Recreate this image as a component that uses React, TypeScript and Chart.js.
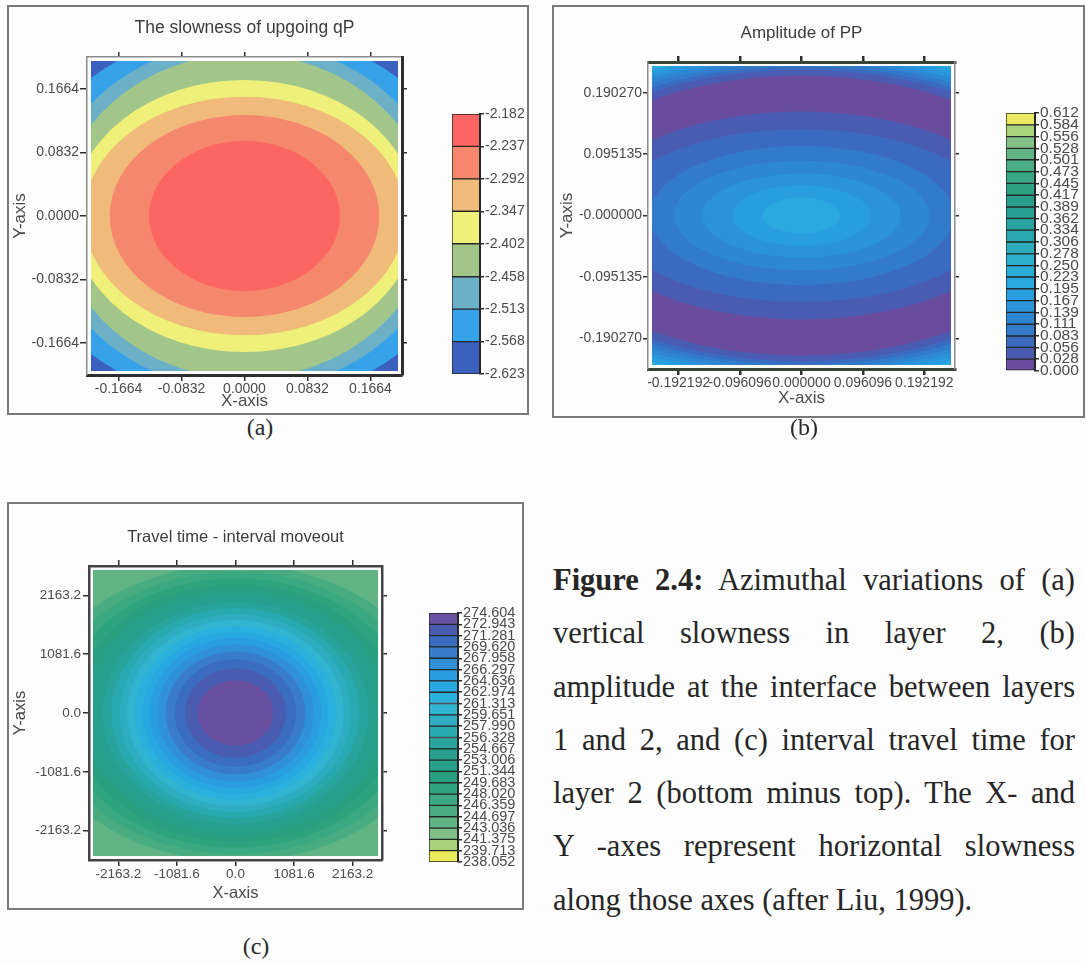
import React, { useEffect, useRef } from "react";
import { Chart, registerables } from "chart.js";

Chart.register(...registerables);

const SANS = "'Liberation Sans', Arial, sans-serif";
const SERIF = "'Liberation Serif', 'Times New Roman', serif";

// ---------------- Panel (a): slowness of upgoing qP ----------------
const A_TITLE = "The slowness of upgoing qP";
const A_AXIS_MAX = 0.208;
const A_TICKS = [-0.1664, -0.0832, 0, 0.0832, 0.1664];
const A_TICK_LABELS = ["-0.1664", "-0.0832", "0.0000", "0.0832", "0.1664"];
const A_LEVELS = [-2.623, -2.568, -2.513, -2.458, -2.402, -2.347, -2.292, -2.237, -2.182];
const A_LEVEL_LABELS = ["-2.623", "-2.568", "-2.513", "-2.458", "-2.402", "-2.347", "-2.292", "-2.237", "-2.182"];
const A_COLORS = ["#3c60bd", "#36a2ea", "#6cb0c8", "#a2c68a", "#eef07a", "#f0ba7a", "#f5876c", "#fc6662"];
const A_BACKGROUND_BAND = 0;
const A_CONTOUR_BAND = [1, 2, 3, 4, 5, 6, 7];
const A_CONTOUR_RX = [0.3, 0.265, 0.245, 0.228, 0.212, 0.178, 0.126];
const A_CONTOUR_RY = [0.245, 0.228, 0.212, 0.178, 0.156, 0.132, 0.098];

// ---------------- Panel (b): amplitude of PP ----------------
const B_TITLE = "Amplitude of PP";
const B_X_MAX = 0.24024;
const B_Y_MAX = 0.237838;
const B_X_TICKS = [-0.192192, -0.096096, 0, 0.096096, 0.192192];
const B_X_TICK_LABELS = ["-0.192192", "-0.096096", "0.000000", "0.096096", "0.192192"];
const B_Y_TICKS = [-0.19027, -0.095135, 0, 0.095135, 0.19027];
const B_Y_TICK_LABELS = ["-0.190270", "-0.095135", "-0.000000", "0.095135", "0.190270"];
const B_LEVELS = [0.0, 0.028, 0.056, 0.083, 0.111, 0.139, 0.167, 0.195, 0.223, 0.25, 0.278, 0.306, 0.334, 0.362, 0.389, 0.417, 0.445, 0.473, 0.501, 0.528, 0.556, 0.584, 0.612];
const B_LEVEL_LABELS = ["0.000", "0.028", "0.056", "0.083", "0.111", "0.139", "0.167", "0.195", "0.223", "0.250", "0.278", "0.306", "0.334", "0.362", "0.389", "0.417", "0.445", "0.473", "0.501", "0.528", "0.556", "0.584", "0.612"];
const B_COLORS = ["#6a4c9e", "#4a5cb2", "#3b6bc0", "#327aca", "#2d87d2", "#2a93da", "#299edf", "#2aa8e0", "#2aaed8", "#2bb0cc", "#2cadbe", "#2ba8ae", "#29a4a0", "#28a094", "#289f8a", "#2ca184", "#38a683", "#4aad84", "#63b586", "#82c287", "#aad47c", "#e9ec62"];
const B_BACKGROUND_BAND = 21;
// outer contours (0.584 ... 0.028) then inner contours (0.028 ... 0.195)
const B_CONTOUR_BAND = [20, 19, 18, 17, 16, 15, 14, 13, 12, 11, 10, 9, 8, 7, 6, 5, 4, 3, 2, 1, 0, 1, 2, 3, 4, 5, 6, 7];
const B_CONTOUR_RX = [0.56, 0.56, 0.56, 0.56, 0.56, 0.56, 0.56, 0.56, 0.56, 0.56, 0.56, 0.56, 0.56, 0.555, 0.54, 0.52, 0.5, 0.48, 0.46, 0.44, 0.4125, 0.34, 0.3, 0.238, 0.2, 0.155, 0.108, 0.06];
const B_CONTOUR_RY = [0.2566, 0.2563, 0.256, 0.2557, 0.2554, 0.2551, 0.2548, 0.2545, 0.2542, 0.2539, 0.2536, 0.2533, 0.253, 0.2525, 0.251, 0.246, 0.241, 0.236, 0.231, 0.226, 0.217, 0.161, 0.134, 0.108, 0.085, 0.065, 0.047, 0.028];

// ---------------- Panel (c): travel time - interval moveout ----------------
const C_TITLE = "Travel time - interval moveout";
const C_AXIS_MAX = 2704;
const C_TICKS = [-2163.2, -1081.6, 0, 1081.6, 2163.2];
const C_TICK_LABELS = ["-2163.2", "-1081.6", "0.0", "1081.6", "2163.2"];
const C_LEVELS = [238.052, 239.713, 241.375, 243.036, 244.697, 246.359, 248.02, 249.683, 251.344, 253.006, 254.667, 256.328, 257.99, 259.651, 261.313, 262.974, 264.636, 266.297, 267.958, 269.62, 271.281, 272.943, 274.604];
const C_LEVEL_LABELS = ["238.052", "239.713", "241.375", "243.036", "244.697", "246.359", "248.020", "249.683", "251.344", "253.006", "254.667", "256.328", "257.990", "259.651", "261.313", "262.974", "264.636", "266.297", "267.958", "269.620", "271.281", "272.943", "274.604"];
const C_COLORS = ["#e8ec58", "#a8d078", "#80c088", "#60b484", "#48ac80", "#3aa880", "#2ea47e", "#28a080", "#26a088", "#28a090", "#28a49c", "#2aa8b0", "#2eacc0", "#30b4d0", "#2ab0dc", "#28a8e0", "#2a9ce0", "#3090d8", "#3a7ccc", "#3a6cc0", "#4a5cb0", "#6a50a0"];
const C_BACKGROUND_BAND = 0;
const C_CONTOUR_BAND = [1, 2, 3, 4, 5, 6, 7, 8, 9, 10, 11, 12, 13, 14, 15, 16, 17, 18, 19, 20, 21];
const C_CONTOUR_RX = [12000, 9000, 7000, 3720, 3460, 3220, 3000, 2800, 2620, 2450, 2290, 2140, 2000, 1860, 1720, 1580, 1440, 1290, 1120, 930, 700];
const C_CONTOUR_RY = [3600, 3200, 2900, 2730, 2600, 2480, 2370, 2260, 2150, 2040, 1930, 1820, 1710, 1600, 1490, 1380, 1260, 1130, 990, 820, 600];

// ---------------- Caption ----------------
const CAPTION_BOLD = "Figure 2.4:";
const CAPTION_LINES = [
  " Azimuthal variations of (a)",
  "vertical slowness in layer 2, (b)",
  "amplitude at the interface between layers",
  "1 and 2, and (c) interval travel time for",
  "layer 2 (bottom minus top). The X- and",
  "Y -axes represent horizontal slowness",
  "along those axes (after Liu, 1999).",
];

type Border = [string, number];
type MainSpec = {
  left: number; top: number; w: number; h: number;
  yW: number; y2W: number; x2H: number; xH: number;
  xMax: number; yMax: number;
  xTicks: number[]; xLabels: string[]; yTicks: number[]; yLabels: string[];
  tickFont: number; titleFont: number; axisTitleFont: number;
  title: string; titlePadTop: number; yTitlePad: number; xTitlePadBottom: number;
  xTickLen: number; yTickLen: number; x2TickLen: number; y2TickLen: number;
  xTickPad: number; yTickPad: number;
  bx: Border; bx2: Border; by: Border; by2: Border;
  tickWidthX: number; tickWidthY: number;
  inset: number;
  colors: string[]; bgBand: number; bands: number[]; rx: number[]; ry: number[];
};

type BarSpec = {
  left: number; top: number; w: number; h: number;
  padTop: number; padBottom: number; axisW: number;
  levels: number[]; labels: string[]; colors: string[]; font: number;
};

const TICK_COLOR = "#2f2f2f";
const LABEL_COLOR = "#4a4a4a";

function contourPlugin(spec: MainSpec) {
  return {
    id: "contours",
    beforeDatasetsDraw(chart: any) {
      const { ctx, chartArea: ca, scales } = chart;
      const xs = scales.x;
      const ys = scales.y;
      const ins = spec.inset;
      ctx.save();
      ctx.beginPath();
      ctx.rect(ca.left + ins, ca.top + ins, ca.right - ca.left - 2 * ins, ca.bottom - ca.top - 2 * ins);
      ctx.clip();
      ctx.fillStyle = spec.colors[spec.bgBand];
      ctx.fillRect(ca.left, ca.top, ca.right - ca.left, ca.bottom - ca.top);
      const cx = xs.getPixelForValue(0);
      const cy = ys.getPixelForValue(0);
      for (let i = 0; i < spec.rx.length; i++) {
        const px = Math.abs(xs.getPixelForValue(spec.rx[i]) - cx);
        const py = Math.abs(ys.getPixelForValue(spec.ry[i]) - cy);
        ctx.beginPath();
        ctx.ellipse(cx, cy, px, py, 0, 0, Math.PI * 2);
        ctx.fillStyle = spec.colors[spec.bands[i]];
        ctx.fill();
      }
      ctx.restore();
    },
  };
}

function buildMain(spec: MainSpec): any {
  const tickFont = { family: SANS, size: spec.tickFont };
  const axisTitleFont = { family: SANS, size: spec.axisTitleFont };
  return {
    type: "scatter",
    data: { datasets: [] },
    options: {
      animation: false,
      responsive: false,
      events: [],
      layout: { padding: 0 },
      plugins: { legend: { display: false }, tooltip: { enabled: false }, title: { display: false } },
      scales: {
        x: {
          type: "linear", position: "bottom", min: -spec.xMax, max: spec.xMax,
          afterBuildTicks: (s: any) => { s.ticks = spec.xTicks.map((v) => ({ value: v })); },
          afterFit: (s: any) => { s.height = spec.xH; },
          ticks: { callback: (_v: any, i: number) => spec.xLabels[i], font: tickFont, color: LABEL_COLOR, padding: spec.xTickPad, maxRotation: 0, autoSkip: false },
          grid: { drawOnChartArea: false, drawTicks: true, tickLength: spec.xTickLen, color: TICK_COLOR, lineWidth: spec.tickWidthX },
          border: { display: true, color: spec.bx[0], width: spec.bx[1], z: 1 },
          title: { display: true, text: "X-axis", font: axisTitleFont, color: LABEL_COLOR, padding: { top: 0, bottom: spec.xTitlePadBottom } },
        },
        x2: {
          type: "linear", axis: "x", position: "top", min: -spec.xMax, max: spec.xMax,
          afterBuildTicks: (s: any) => { s.ticks = spec.xTicks.map((v) => ({ value: v })); },
          afterFit: (s: any) => { s.height = spec.x2H; },
          ticks: { display: false },
          grid: { drawOnChartArea: false, drawTicks: true, tickLength: spec.x2TickLen, color: TICK_COLOR, lineWidth: spec.tickWidthX },
          border: { display: true, color: spec.bx2[0], width: spec.bx2[1], z: 1 },
          title: { display: true, text: spec.title, font: { family: SANS, size: spec.titleFont }, color: "#3c3c3c", padding: { top: spec.titlePadTop, bottom: 0 } },
        },
        y: {
          type: "linear", position: "left", min: -spec.yMax, max: spec.yMax,
          afterBuildTicks: (s: any) => { s.ticks = spec.yTicks.map((v) => ({ value: v })); },
          afterFit: (s: any) => { s.width = spec.yW; },
          ticks: { callback: (_v: any, i: number) => spec.yLabels[i], font: tickFont, color: LABEL_COLOR, padding: spec.yTickPad, autoSkip: false },
          grid: { drawOnChartArea: false, drawTicks: true, tickLength: spec.yTickLen, color: TICK_COLOR, lineWidth: spec.tickWidthY },
          border: { display: true, color: spec.by[0], width: spec.by[1], z: 1 },
          title: { display: true, text: "Y-axis", font: axisTitleFont, color: LABEL_COLOR, padding: { top: spec.yTitlePad, bottom: 0 } },
        },
        y2: {
          type: "linear", axis: "y", position: "right", min: -spec.yMax, max: spec.yMax,
          afterBuildTicks: (s: any) => { s.ticks = spec.yTicks.map((v) => ({ value: v })); },
          afterFit: (s: any) => { s.width = spec.y2W; },
          ticks: { display: false },
          grid: { drawOnChartArea: false, drawTicks: true, tickLength: spec.y2TickLen, color: TICK_COLOR, lineWidth: spec.tickWidthY },
          border: { display: true, color: spec.by2[0], width: spec.by2[1], z: 1 },
        },
      },
    },
    plugins: [contourPlugin(spec)],
  };
}

function buildBar(spec: BarSpec): any {
  const datasets = spec.colors.map((c, i) => ({
    data: [[spec.levels[i], spec.levels[i + 1]]],
    backgroundColor: c,
    borderColor: "#262626",
    borderWidth: 1,
    borderSkipped: false,
    grouped: false,
    categoryPercentage: 1,
    barPercentage: 1,
  }));
  return {
    type: "bar",
    data: { labels: [""], datasets },
    options: {
      animation: false,
      responsive: false,
      events: [],
      layout: { padding: { top: spec.padTop, bottom: spec.padBottom, left: 0, right: 0 } },
      plugins: { legend: { display: false }, tooltip: { enabled: false } },
      scales: {
        x: { display: false },
        y: {
          type: "linear", position: "right",
          min: spec.levels[0], max: spec.levels[spec.levels.length - 1],
          afterBuildTicks: (s: any) => { s.ticks = spec.levels.map((v) => ({ value: v })); },
          afterFit: (s: any) => { s.width = spec.axisW; },
          ticks: { callback: (_v: any, i: number) => spec.labels[i], font: { family: SANS, size: spec.font }, color: LABEL_COLOR, padding: 1, autoSkip: false },
          grid: { drawOnChartArea: false, drawTicks: true, tickLength: 4, color: TICK_COLOR, lineWidth: 1.5 },
          border: { display: true, color: "#262626", width: 2, z: 1 },
        },
      },
    },
  };
}

function ChartCanvas({ left, top, w, h, build }: { left: number; top: number; w: number; h: number; build: () => any }) {
  const ref = useRef<HTMLCanvasElement>(null);
  useEffect(() => {
    const chart = new Chart(ref.current as HTMLCanvasElement, build());
    return () => chart.destroy();
  }, []);
  return (
    <canvas
      ref={ref}
      width={w}
      height={h}
      style={{ position: "absolute", left, top, width: w, height: h }}
    />
  );
}

const SPEC_A: MainSpec = {
  left: 9, top: 7, w: 440, h: 405,
  yW: 78, y2W: 47, x2H: 50, xH: 37,
  xMax: A_AXIS_MAX, yMax: A_AXIS_MAX,
  xTicks: A_TICKS, xLabels: A_TICK_LABELS, yTicks: A_TICKS, yLabels: A_TICK_LABELS,
  tickFont: 14, titleFont: 17.5, axisTitleFont: 17,
  title: A_TITLE, titlePadTop: 11, yTitlePad: 1, xTitlePadBottom: 0,
  xTickLen: 6, yTickLen: 7, x2TickLen: 5, y2TickLen: 5, xTickPad: 0, yTickPad: 1,
  bx: ["#2e2e2e", 3], bx2: ["#8c8c8c", 1.5], by: ["#8c8c8c", 1.5], by2: ["#2e2e2e", 3],
  tickWidthX: 1.5, tickWidthY: 1.5,
  inset: 4,
  colors: A_COLORS, bgBand: A_BACKGROUND_BAND, bands: A_CONTOUR_BAND, rx: A_CONTOUR_RX, ry: A_CONTOUR_RY,
};

const SPEC_B: MainSpec = {
  left: 554, top: 7, w: 440, h: 408,
  yW: 94, y2W: 39, x2H: 55, xH: 46,
  xMax: B_X_MAX, yMax: B_Y_MAX,
  xTicks: B_X_TICKS, xLabels: B_X_TICK_LABELS, yTicks: B_Y_TICKS, yLabels: B_Y_TICK_LABELS,
  tickFont: 14, titleFont: 17, axisTitleFont: 17,
  title: B_TITLE, titlePadTop: 16, yTitlePad: 3, xTitlePadBottom: 6,
  xTickLen: 6, yTickLen: 5, x2TickLen: 6, y2TickLen: 4, xTickPad: 0, yTickPad: 1,
  bx: ["#3a423a", 3], bx2: ["#3a423a", 3], by: ["#8c8c8c", 1.5], by2: ["#8c8c8c", 1.5],
  tickWidthX: 2.5, tickWidthY: 1.5,
  inset: 4,
  colors: B_COLORS, bgBand: B_BACKGROUND_BAND, bands: B_CONTOUR_BAND, rx: B_CONTOUR_RX, ry: B_CONTOUR_RY,
};

const SPEC_C: MainSpec = {
  left: 9, top: 505, w: 415, h: 402,
  yW: 80, y2W: 42, x2H: 61, xH: 47,
  xMax: C_AXIS_MAX, yMax: C_AXIS_MAX,
  xTicks: C_TICKS, xLabels: C_TICK_LABELS, yTicks: C_TICKS, yLabels: C_TICK_LABELS,
  tickFont: 13.5, titleFont: 16.5, axisTitleFont: 16.5,
  title: C_TITLE, titlePadTop: 23, yTitlePad: 2, xTitlePadBottom: 4,
  xTickLen: 6, yTickLen: 6, x2TickLen: 6, y2TickLen: 5, xTickPad: 0, yTickPad: 2,
  bx: ["#444444", 2.5], bx2: ["#444444", 2.5], by: ["#444444", 2.5], by2: ["#444444", 2.5],
  tickWidthX: 1.5, tickWidthY: 1.5,
  inset: 4,
  colors: C_COLORS, bgBand: C_BACKGROUND_BAND, bands: C_CONTOUR_BAND, rx: C_CONTOUR_RX, ry: C_CONTOUR_RY,
};

const BAR_A: BarSpec = { left: 452, top: 100, w: 76, h: 290, padTop: 14, padBottom: 16, axisW: 48, levels: A_LEVELS, labels: A_LEVEL_LABELS, colors: A_COLORS, font: 14 };
const BAR_B: BarSpec = { left: 1006, top: 100, w: 80, h: 290, padTop: 13, padBottom: 19, axisW: 51, levels: B_LEVELS, labels: B_LEVEL_LABELS, colors: B_COLORS, font: 15.5 };
const BAR_C: BarSpec = { left: 429, top: 600, w: 90, h: 280, padTop: 13, padBottom: 18, axisW: 61, levels: C_LEVELS, labels: C_LEVEL_LABELS, colors: C_COLORS, font: 14.5 };

function PanelBox({ left, top, width, height }: { left: number; top: number; width: number; height: number }) {
  return (
    <div
      style={{
        position: "absolute", left, top, width, height, boxSizing: "border-box",
        border: "2px solid #7a7a7a",
      }}
    />
  );
}

function SubLabel({ text, cx, cy }: { text: string; cx: number; cy: number }) {
  return (
    <div
      style={{
        position: "absolute", left: cx - 40, top: cy - 14, width: 80, height: 28,
        lineHeight: "28px", textAlign: "center", fontFamily: SERIF, fontSize: 24, color: "#2a2a2a",
      }}
    >
      {text}
    </div>
  );
}

export default function App() {
  return (
    <div style={{ position: "absolute", left: 0, top: 0, width: 1086, height: 965, background: "#fdfdfd", overflow: "hidden" }}>
      <PanelBox left={7} top={5} width={522} height={410} />
      <PanelBox left={552} top={5} width={533} height={413} />
      <PanelBox left={7} top={502} width={517} height={408} />

      <ChartCanvas left={SPEC_A.left} top={SPEC_A.top} w={SPEC_A.w} h={SPEC_A.h} build={() => buildMain(SPEC_A)} />
      <ChartCanvas left={BAR_A.left} top={BAR_A.top} w={BAR_A.w} h={BAR_A.h} build={() => buildBar(BAR_A)} />

      <ChartCanvas left={SPEC_B.left} top={SPEC_B.top} w={SPEC_B.w} h={SPEC_B.h} build={() => buildMain(SPEC_B)} />
      <ChartCanvas left={BAR_B.left} top={BAR_B.top} w={BAR_B.w} h={BAR_B.h} build={() => buildBar(BAR_B)} />

      <ChartCanvas left={SPEC_C.left} top={SPEC_C.top} w={SPEC_C.w} h={SPEC_C.h} build={() => buildMain(SPEC_C)} />
      <ChartCanvas left={BAR_C.left} top={BAR_C.top} w={BAR_C.w} h={BAR_C.h} build={() => buildBar(BAR_C)} />

      <SubLabel text="(a)" cx={260} cy={427} />
      <SubLabel text="(b)" cx={804} cy={427} />
      <SubLabel text="(c)" cx={256} cy={946} />

      <div style={{ position: "absolute", left: 553, top: 554, width: 522, fontFamily: SERIF, fontSize: 30.5, color: "#262626" }}>
        {CAPTION_LINES.map((line, i) => {
          const last = i === CAPTION_LINES.length - 1;
          return (
            <div
              key={i}
              style={{
                height: 53.3, lineHeight: "53.3px", whiteSpace: "nowrap",
                textAlign: last ? "left" : "justify",
                textAlignLast: last ? "left" : "justify",
              } as React.CSSProperties}
            >
              {i === 0 ? <b>{CAPTION_BOLD}</b> : null}
              {line}
            </div>
          );
        })}
      </div>
    </div>
  );
}
